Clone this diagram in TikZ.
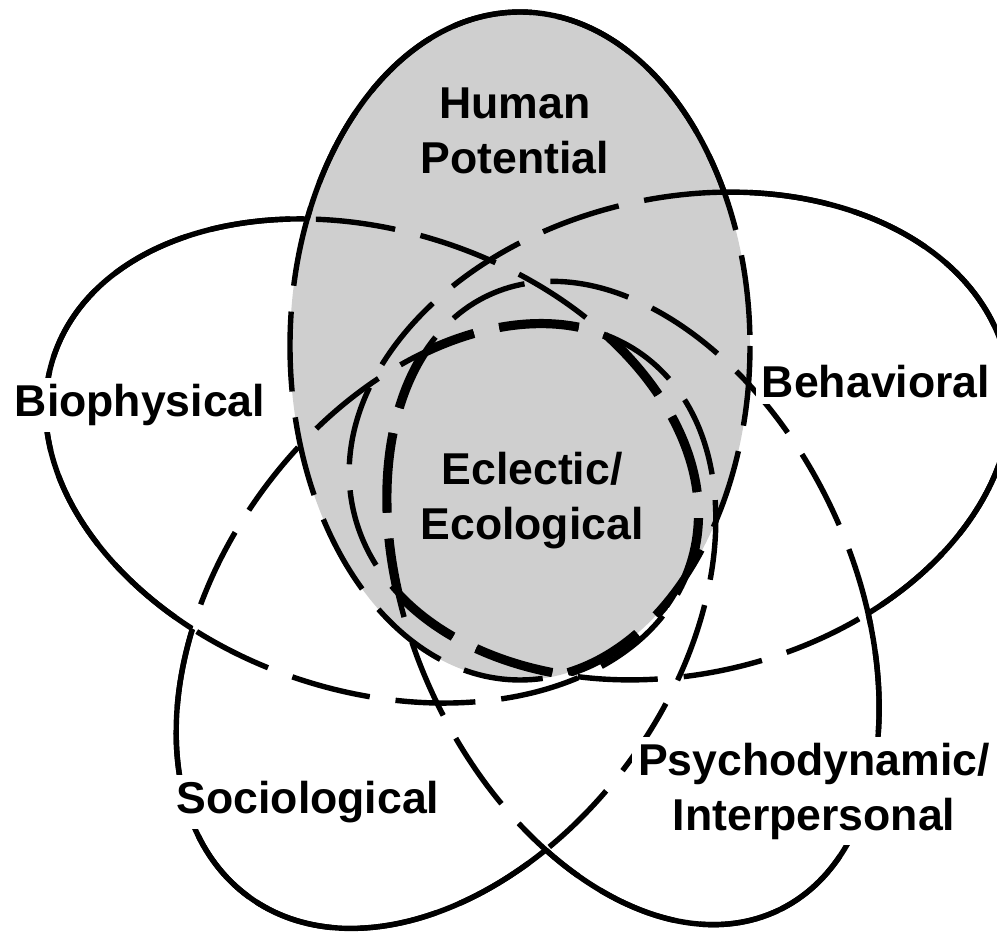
\documentclass[tikz,border=0pt]{standalone}
\usepackage{fontspec}
\setmainfont{Liberation Sans}
\definecolor{speck}{gray}{0.81}
\tikzset{
  rim/.style={line width=2.7pt},
  hidden/.style={line width=2.7pt,dash pattern=on 40pt off 13pt},
  core/.style={line width=4.6pt,dash pattern=on 40pt off 13pt},
  tag/.style={font=\bfseries\fontsize{22.3}{27.5}\selectfont,align=center,inner sep=1pt},
  tagw/.style={tag,fill=white,inner sep=3pt}
}
% the five ellipses, pixel coordinates (y down)
\def\elHP{(520,346) ellipse [x radius=230, y radius=334]}
\def\elBeh{(680,436) ellipse [x radius=335, y radius=238, rotate=13]}
\def\elPsy{(633,603) ellipse [x radius=340, y radius=220, rotate=-64.8]}
\def\elSoc{(446,626) ellipse [x radius=335, y radius=228, rotate=-126]}
\def\elBio{(372,461) ellipse [x radius=335, y radius=230, rotate=162]}
\newcommand\outof[1]{\clip (-50,-50) rectangle (1050,1000) #1;}

\begin{document}
\begin{tikzpicture}[x=0.5pt,y=-0.5pt]
  \useasboundingbox (0,0) rectangle (997,940);
  \fill[speck] \elHP;
  \foreach \e in {\elHP,\elBeh,\elPsy,\elSoc,\elBio} \draw[hidden] \e;

  \begin{scope}[even odd rule]\outof\elBeh\outof\elPsy\outof\elSoc\outof\elBio \draw[rim] \elHP;\end{scope}
  \begin{scope}[even odd rule]\outof\elHP\outof\elPsy\outof\elSoc\outof\elBio \draw[rim] \elBeh;\end{scope}
  \begin{scope}[even odd rule]\outof\elHP\outof\elBeh\outof\elSoc\outof\elBio \draw[rim] \elPsy;\end{scope}
  \begin{scope}[even odd rule]\outof\elHP\outof\elBeh\outof\elPsy\outof\elBio \draw[rim] \elSoc;\end{scope}
  \begin{scope}[even odd rule]\outof\elHP\outof\elBeh\outof\elPsy\outof\elSoc \draw[rim] \elBio;\end{scope}

  \begin{scope}\clip\elBeh;\clip\elPsy;\clip\elSoc;\clip\elBio; \draw[core] \elHP;\end{scope}
  \begin{scope}\clip\elHP;\clip\elPsy;\clip\elSoc;\clip\elBio; \draw[core] \elBeh;\end{scope}
  \begin{scope}\clip\elHP;\clip\elBeh;\clip\elSoc;\clip\elBio; \draw[core] \elPsy;\end{scope}
  \begin{scope}\clip\elHP;\clip\elBeh;\clip\elPsy;\clip\elBio; \draw[core] \elSoc;\end{scope}
  \begin{scope}\clip\elHP;\clip\elBeh;\clip\elPsy;\clip\elSoc; \draw[core] \elBio;\end{scope}

  \node[tag] (hp) at (515,131) {Human\\Potential};
  \node[tag] (ecl) at (532,501) {Eclectic/\\Ecological};
  \node[tagw] (bio) at (140,405) {Biophysical};
  \node[tagw] (beh) at (876,382) {Behavioral};
  \node[tagw] (soc) at (308,802) {Sociological};
  \node[tagw] (psy) at (814,791) {Psychodynamic/\\Interpersonal};
\end{tikzpicture}
\end{document}
